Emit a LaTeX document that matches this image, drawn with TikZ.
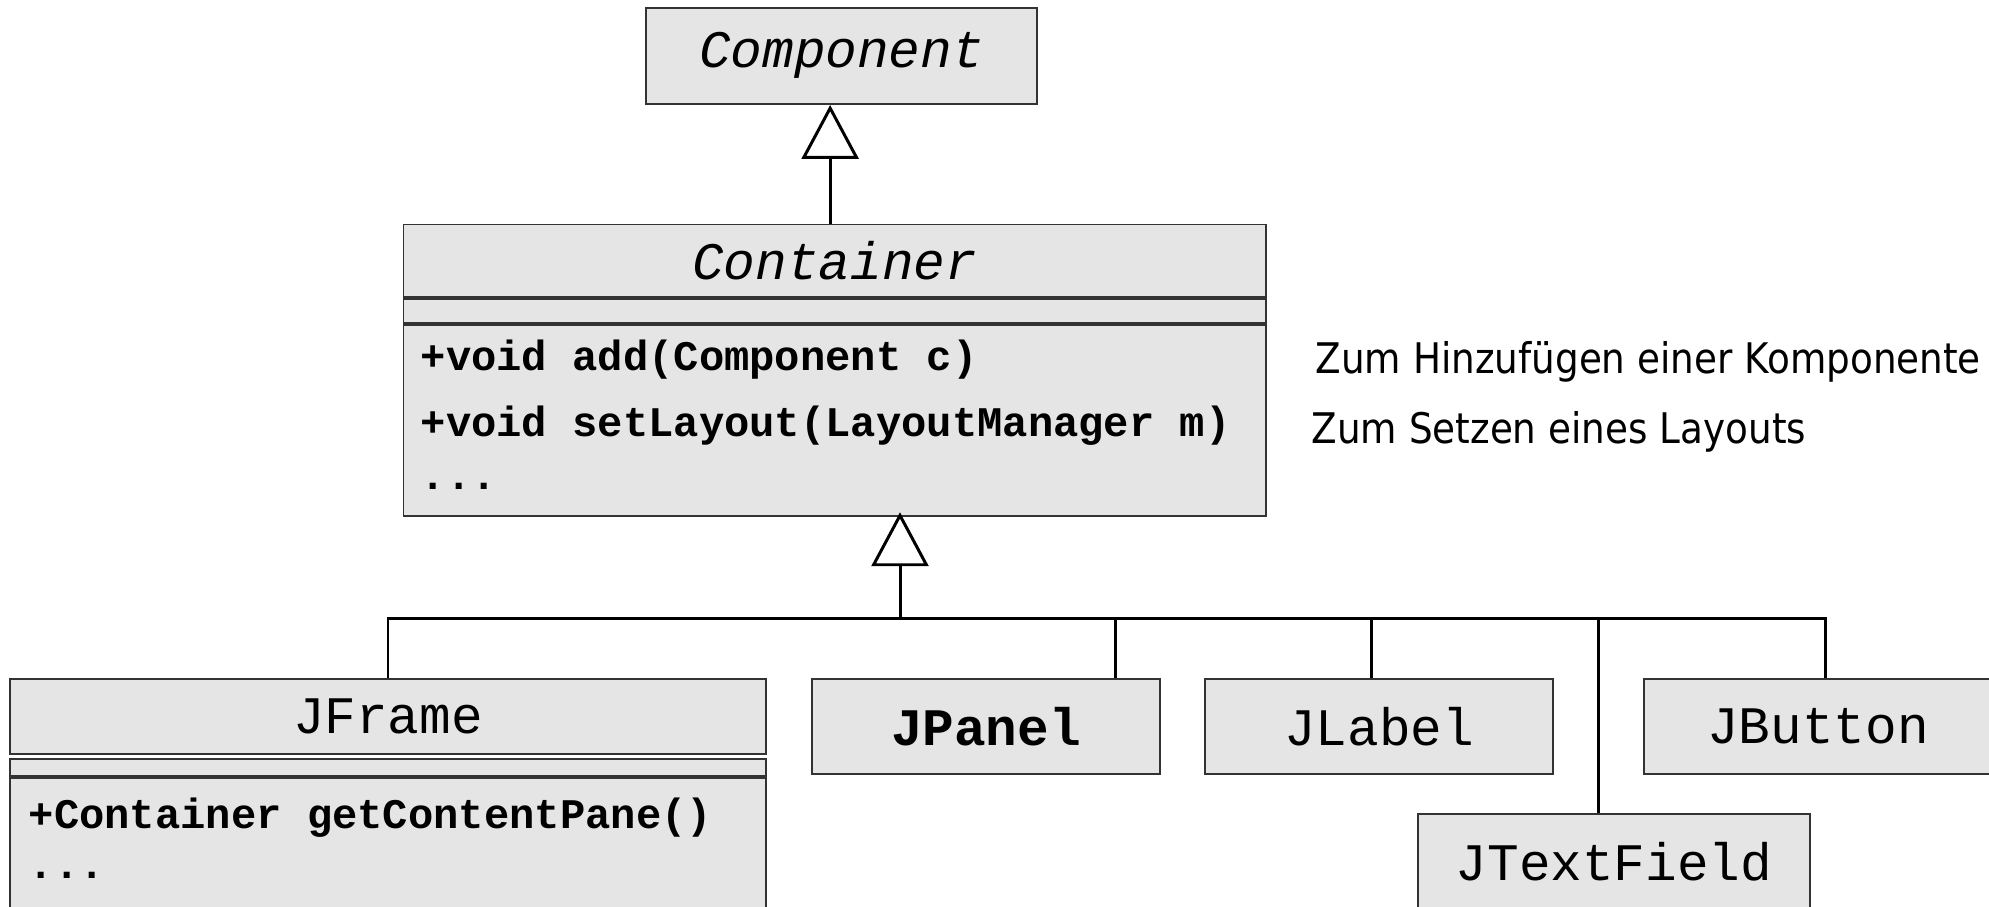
\documentclass[tikz,border=0pt]{standalone}
\usepackage{fontspec}
\usetikzlibrary{arrows.meta,calc}
\newfontfamily\umlfont{Liberation Mono}
\newfontfamily\notefont[FakeStretch=0.885]{DejaVu Sans}
\tikzset{
    classbox/.style = {draw=black!80, fill=gray!20, line width=.55pt,
        rectangle, inner sep=0pt,
        font=\umlfont\fontsize{15}{18}\selectfont},
    smallbox/.style = {classbox, minimum width=3.48cm, minimum height=.95cm},
    member/.style = {anchor=base west, inner sep=0pt,
        font=\umlfont\bfseries\fontsize{12}{14}\selectfont},
    note/.style = {anchor=base west, inner sep=0pt,
        font=\notefont\fontsize{12}{14}\selectfont},
    link/.style = {draw, line width=.85pt},
    generalize/.style = {link, -{Triangle[open, length=.54cm, width=.57cm]}}
}

\begin{document}
\begin{tikzpicture}
\useasboundingbox (0,0) rectangle (19.89,-9.06);

% abstract base classes
\node[classbox, minimum width=3.915cm, minimum height=.964cm] (component) at (8.415,-.558) {\itshape Component};
\node[classbox, minimum width=8.623cm, minimum height=.725cm] (container) at (8.3465,-2.6075) {\itshape Container};
\node[classbox, minimum width=8.623cm, minimum height=.24cm, anchor=north] (containerattr) at (container.south) {};
\node[classbox, minimum width=8.623cm, minimum height=1.914cm, anchor=north] (containerops) at (containerattr.south) {};
\node[member] (add) at (4.20,-3.70) {+void add(Component c)};
\node[member] (setlayout) at (4.20,-4.365) {+void setLayout(LayoutManager m)};
\node[member] (moreops) at (4.20,-4.89) {...};

% notes next to the methods
\node[note] (addnote) at (13.15,-3.73) {Zum Hinzufügen einer Komponente};
\node[note] (layoutnote) at (13.11,-4.43) {Zum Setzen eines Layouts};

% swing classes
\node[classbox, minimum width=7.56cm, minimum height=.75cm] (jframe) at (3.88,-7.165) {JFrame};
\node[classbox, minimum width=7.56cm, minimum height=.17cm, anchor=north] (jframeattr) at ([yshift=-.03cm]jframe.south) {};
\node[classbox, minimum width=7.56cm, minimum height=1.31cm, anchor=north] (jframeops) at (jframeattr.south) {};
\node[member] (getpane) at (.28,-8.28) {+Container getContentPane()};
\node[member] (moreframe) at (.28,-8.78) {...};

\node[smallbox] (jpanel) at (9.86,-7.265) {\bfseries JPanel};
\node[smallbox] (jlabel) at (13.79,-7.265) {JLabel};
\node[smallbox] (jbutton) at (18.18,-7.265) {JButton};
\node[smallbox, minimum width=3.92cm] (jtextfield) at (16.14,-8.615) {JTextField};

% inheritance
\coordinate (upper) at ([xshift=-.045cm]container.north);
\draw[generalize] (upper) -- (upper |- component.south);

\coordinate (hub) at (9.00,-6.18);
\draw[generalize] (hub) -- ($(hub |- containerops.south)+(0,.05)$);
\draw[link] (jframe.north) |- (hub);
\draw[link] ([xshift=1.29cm]jpanel.north) |- (hub);
\draw[link] ([xshift=-.08cm]jlabel.north) |- (hub);
\draw[link] ([xshift=-.16cm]jtextfield.north) |- (hub);
\draw[link] ([xshift=.07cm]jbutton.north) |- (hub);
\end{tikzpicture}
\end{document}
